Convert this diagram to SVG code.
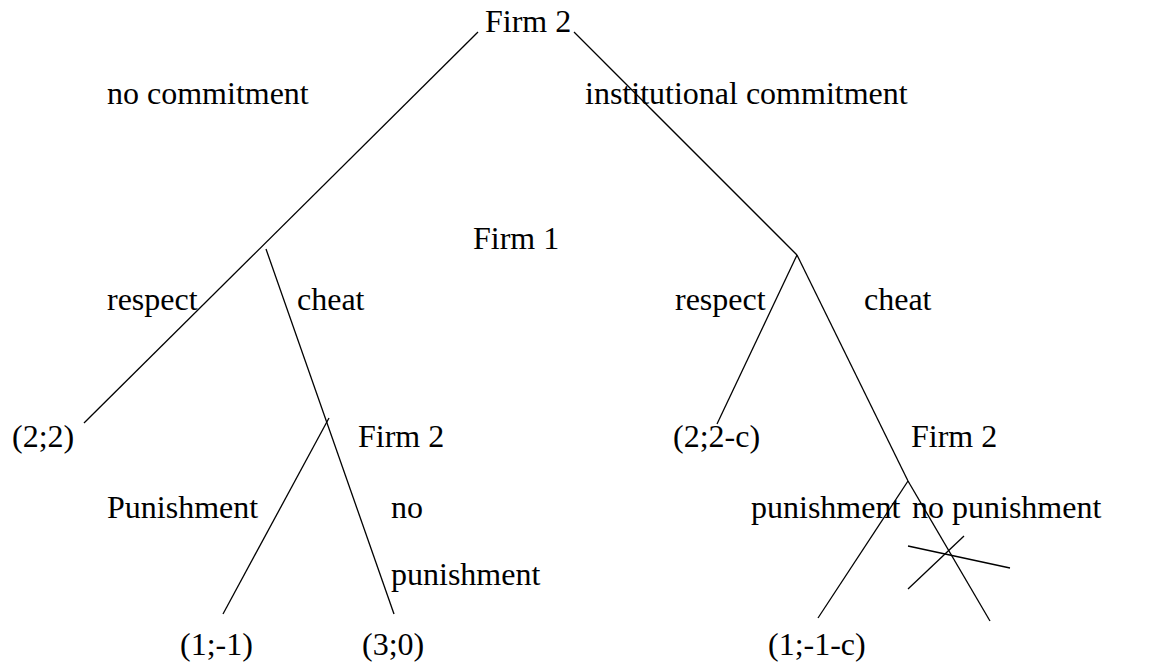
<svg xmlns="http://www.w3.org/2000/svg" width="1158" height="668" viewBox="0 0 1158 668">
<style>
text{font-family:"Liberation Serif","Times New Roman",serif;font-size:32px;fill:#000}
.e{stroke:#000;stroke-width:1.3;fill:none}
</style>
<rect width="1158" height="668" fill="#fff"/>
<g id="connectors">
<line class="e" x1="478" y1="32" x2="84" y2="423"/>
<line class="e" x1="574" y1="32" x2="797" y2="255"/>
<line class="e" x1="266" y1="249" x2="394" y2="614"/>
<line class="e" x1="329" y1="418" x2="223" y2="614"/>
<line class="e" x1="797" y1="255" x2="717" y2="424"/>
<line class="e" x1="797" y1="255" x2="908" y2="481"/>
<line class="e" x1="908" y1="481" x2="990" y2="621"/>
<line class="e" x1="908" y1="481" x2="818" y2="618"/>
<line class="e" x1="908" y1="546" x2="1010" y2="568"/>
<line class="e" x1="908" y1="589" x2="964" y2="536"/>
</g>
<g id="n-root"><text x="485" y="32">Firm 2</text></g>
<g id="l-nocommit"><text x="107" y="104">no commitment</text></g>
<g id="l-inst"><text x="585" y="104">institutional commitment</text></g>
<g id="n-firm1"><text x="473" y="249">Firm 1</text></g>
<g id="l-respect1"><text x="107" y="310">respect</text></g>
<g id="l-cheat1"><text x="297" y="310">cheat</text></g>
<g id="l-respect2"><text x="675" y="310">respect</text></g>
<g id="l-cheat2"><text x="864" y="310">cheat</text></g>
<g id="t-22"><text x="12" y="447">(2;2)</text></g>
<g id="n-firm2a"><text x="358" y="447">Firm 2</text></g>
<g id="t-22c"><text x="673" y="447">(2;2-c)</text></g>
<g id="n-firm2b"><text x="911" y="447">Firm 2</text></g>
<g id="l-pun1"><text x="107" y="518">Punishment</text></g>
<g id="l-nopun1"><text x="391" y="518">no</text><text x="391" y="585">punishment</text></g>
<g id="l-pun2"><text x="751" y="518">punishment</text></g>
<g id="l-nopun2"><text x="912" y="518">no punishment</text></g>
<g id="t-1m1"><text x="180" y="655">(1;-1)</text></g>
<g id="t-30"><text x="362" y="655">(3;0)</text></g>
<g id="t-1m1c"><text x="768" y="655">(1;-1-c)</text></g>
</svg>
